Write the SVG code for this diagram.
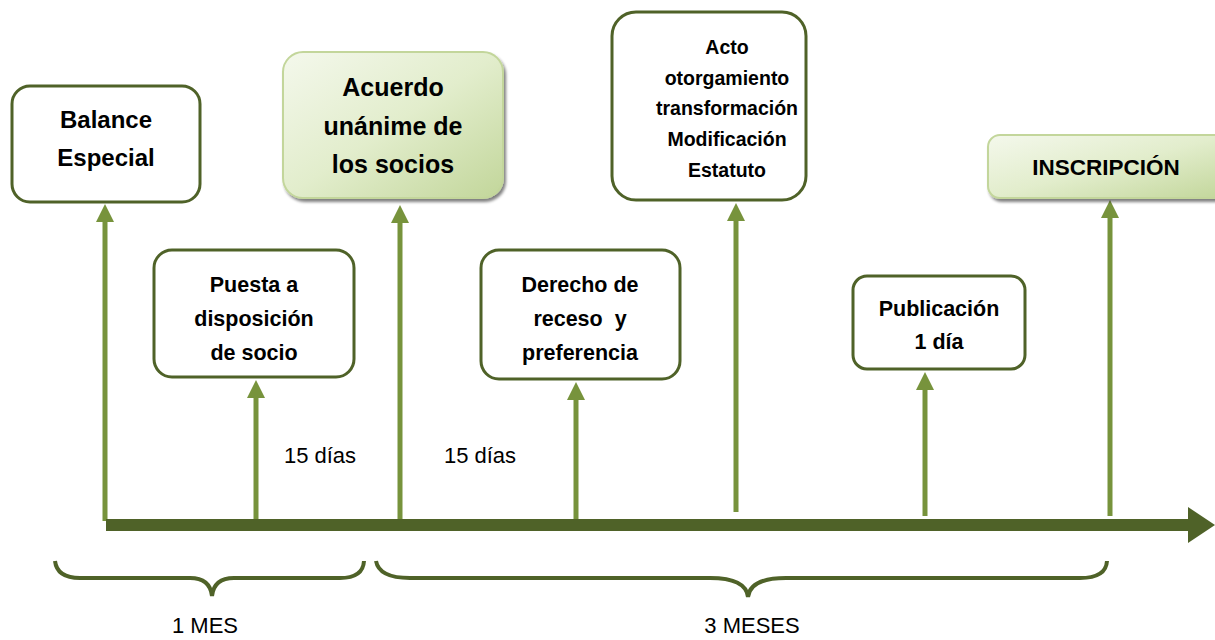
<svg xmlns="http://www.w3.org/2000/svg" width="1215" height="640" viewBox="0 0 1215 640">
<defs>
<linearGradient id="gg" x1="0" y1="0" x2="1" y2="1">
<stop offset="0" stop-color="#f4f8ec"/>
<stop offset="0.5" stop-color="#e2edcc"/>
<stop offset="1" stop-color="#c2d69a"/>
</linearGradient>
<marker id="ah" viewBox="0 0 10 10" refX="0" refY="5" markerWidth="3.8" markerHeight="3.6" orient="auto" markerUnits="strokeWidth">
<path d="M0,0 L10,5 L0,10 Z" fill="#77933c"/>
</marker>
<filter id="sh" x="-5%" y="-5%" width="115%" height="120%">
<feGaussianBlur in="SourceAlpha" stdDeviation="1.5"/>
<feOffset dx="2" dy="3"/>
<feComponentTransfer><feFuncA type="linear" slope="0.5"/></feComponentTransfer>
<feMerge><feMergeNode/><feMergeNode in="SourceGraphic"/></feMerge>
</filter>
</defs>
<style>
.box{fill:#ffffff;stroke:#4f6228;stroke-width:3}
.gbox{fill:url(#gg);stroke:#c3d69b;stroke-width:2}
.t{font-family:"Liberation Sans",Arial,sans-serif;font-weight:bold;fill:#000;text-anchor:middle}
.v{stroke:#77933c;stroke-width:5;fill:none}
.lab{font-family:"Liberation Sans",Arial,sans-serif;fill:#000;text-anchor:middle}
.br{fill:none;stroke:#4f6228;stroke-width:4}
</style>
<g id="connectors">
<line class="v" x1="105" y1="521" x2="105" y2="222" marker-end="url(#ah)"/>
<line class="v" x1="256" y1="525" x2="256" y2="398" marker-end="url(#ah)"/>
<line class="v" x1="400" y1="525" x2="400" y2="223" marker-end="url(#ah)"/>
<line class="v" x1="576" y1="525" x2="576" y2="400" marker-end="url(#ah)"/>
<line class="v" x1="736" y1="512" x2="736" y2="221" marker-end="url(#ah)"/>
<line class="v" x1="925" y1="516" x2="925" y2="390" marker-end="url(#ah)"/>
<line class="v" x1="1110" y1="516" x2="1110" y2="218" marker-end="url(#ah)"/>
</g>
<g id="timeline">
<rect x="106" y="519" width="1086" height="12" fill="#4f6228"/>
<path d="M1188,507 L1215,525 L1188,543 Z" fill="#4f6228"/>
</g>
<g id="braces">
<path class="br" d="M55,561 Q57,578 80,578 L190,578 Q210,578 212,596 Q214,578 234,578 L340,578 Q363,578 364,561"/>
<path class="br" d="M376,561 Q379,578 410,578 L710,578 Q746,578 748,597 Q750,578 786,578 L1080,578 Q1106,578 1107,561"/>
</g>
<g id="n-balance">
<rect class="box" x="12" y="86" width="188" height="116" rx="18"/>
<text class="t" font-size="24"><tspan x="106" y="128">Balance</tspan><tspan x="106" y="166">Especial</tspan></text>
</g>
<g id="n-acuerdo">
<rect class="gbox" x="283" y="52" width="220" height="146" rx="20" filter="url(#sh)"/>
<text class="t" font-size="25"><tspan x="393" y="96">Acuerdo</tspan><tspan x="393" y="135">unánime de</tspan><tspan x="393" y="173">los socios</tspan></text>
</g>
<g id="n-acto">
<rect class="box" x="612" y="12" width="194" height="188" rx="24"/>
<text class="t" font-size="19.5"><tspan x="727" y="54">Acto</tspan><tspan x="727" y="85">otorgamiento</tspan><tspan x="727" y="115">transformación</tspan><tspan x="727" y="146">Modificación</tspan><tspan x="727" y="177">Estatuto</tspan></text>
</g>
<g id="n-inscripcion">
<rect class="gbox" x="988" y="135" width="240" height="63" rx="12" filter="url(#sh)"/>
<text class="t" font-size="22.5" x="1106" y="175">INSCRIPCIÓN</text>
</g>
<g id="n-puesta">
<rect class="box" x="154" y="250" width="200" height="127" rx="18"/>
<text class="t" font-size="21.5"><tspan x="254" y="292">Puesta a</tspan><tspan x="254" y="326">disposición</tspan><tspan x="254" y="360">de socio</tspan></text>
</g>
<g id="n-derecho">
<rect class="box" x="481" y="250" width="199" height="129" rx="18"/>
<text class="t" font-size="21.5"><tspan x="580" y="292">Derecho de</tspan><tspan x="580" y="326" xml:space="preserve">receso  y</tspan><tspan x="580" y="360">preferencia</tspan></text>
</g>
<g id="n-publicacion">
<rect class="box" x="853" y="276" width="172" height="93" rx="14"/>
<text class="t" font-size="21.5"><tspan x="939" y="316">Publicación</tspan><tspan x="939" y="349">1 día</tspan></text>
</g>
<g id="labels">
<text class="lab" font-size="22" x="320" y="463">15 días</text>
<text class="lab" font-size="22" x="480" y="463">15 días</text>
<text class="lab" font-size="22" x="205" y="633">1 MES</text>
<text class="lab" font-size="22" x="752" y="633">3 MESES</text>
</g>
</svg>
